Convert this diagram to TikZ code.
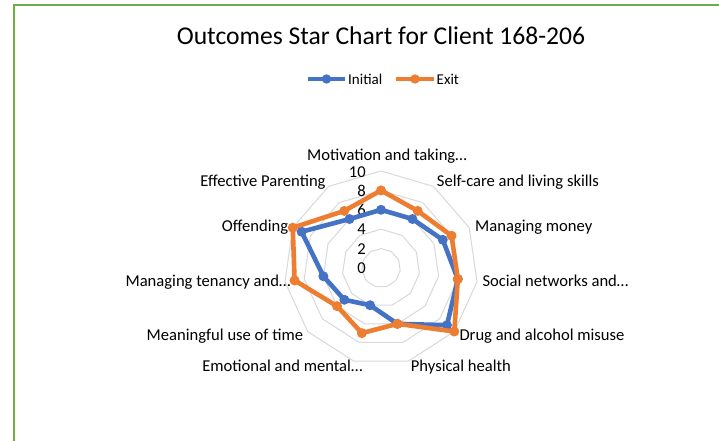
\documentclass[tikz,border=0pt]{standalone}
\usepackage{fontspec}
\setmainfont{Carlito}
\definecolor{serA}{HTML}{4472C4}
\definecolor{serB}{HTML}{ED7D31}
\definecolor{gridc}{HTML}{D9D9D9}
\definecolor{framec}{HTML}{70AD47}
\begin{document}
\begin{tikzpicture}[x=1bp,y=-1bp,
  ring/.style={draw=gridc,line width=1bp},
  serline/.style={line width=4.6bp,line join=round,line cap=round},
  lbl/.style={inner sep=0pt,font=\fontsize{16.6bp}{20bp}\selectfont},
  tick/.style={inner sep=0pt,anchor=base east,font=\fontsize{16.6bp}{20bp}\selectfont},
  leg/.style={inner sep=0pt,anchor=base west,font=\fontsize{15bp}{18bp}\selectfont}]
\useasboundingbox[fill=white] (0,0) rectangle (719,441);
% frame
\coordinate (fb) at (14,441);
\coordinate (fc) at (14,5);
\coordinate (fr) at (719,5);
\draw[framec,line width=2bp] (fb) -- (fc) -- (fr);
% title
\node[inner sep=0pt,anchor=base,font=\fontsize{25.6bp}{30bp}\selectfont] (title) at (381,45) {Outcomes Star Chart for Client 168-206};
% grid rings
\def\cx{381}\def\cy{268}\def\u{9.7}
\foreach \v in {2,4,6,8,10}{
  \draw[ring] plot[samples at={0,...,10}] ({\cx+\v*\u*cos(90-\x*360/11)},{\cy-\v*\u*sin(90-\x*360/11)}) -- cycle;
}
% tick labels
\foreach \v in {0,2,4,6,8,10}{
  \node[tick] (t\v) at (366,{268-\v*9.6+5.3}) {\v};
}
% data
\foreach \v [count=\k from 0] in {6,6,7,8,9,6,4,5,6,9,6}{
  \coordinate (i\k) at ({\cx+\v*\u*cos(90-\k*360/11)},{\cy-\v*\u*sin(90-\k*360/11)});
}
\foreach \v [count=\k from 0] in {8,7,8,8,10,6,7,6,9,10,7}{
  \coordinate (e\k) at ({\cx+\v*\u*cos(90-\k*360/11)},{\cy-\v*\u*sin(90-\k*360/11)});
}
\draw[serline,serA] (i0) \foreach \k in {1,...,10}{ -- (i\k) } -- cycle;
\foreach \k in {0,...,10}{ \fill[serA] (i\k) circle (5); }
\draw[serline,serB] (e0) \foreach \k in {1,...,10}{ -- (e\k) } -- cycle;
\foreach \k in {0,...,10}{ \fill[serB] (e\k) circle (5); }
% category labels
\node[lbl,anchor=base] (l0) at (387,160.3) {Motivation and taking…};
\node[lbl,anchor=base west] (l1) at (436.7,187) {Self-care and living skills};
\node[lbl,anchor=base west] (l2) at (475,231.3) {Managing money};
\node[lbl,anchor=base west] (l3) at (482.3,287) {Social networks and…};
\node[lbl,anchor=base west] (l4) at (459.3,340.3) {Drug and alcohol misuse};
\node[lbl,anchor=base west] (l5) at (410.7,371) {Physical health};
\node[lbl,anchor=base east] (l6) at (362.7,371) {Emotional and mental…};
\node[lbl,anchor=base east] (l7) at (303.3,340.3) {Meaningful use of time};
\node[lbl,anchor=base east] (l8) at (290.7,287) {Managing tenancy and…};
\node[lbl,anchor=base east] (l9) at (288.3,231.3) {Offending};
\node[lbl,anchor=base east] (l10) at (325.7,187) {Effective Parenting};
% legend
\coordinate (la1) at (308,79); \coordinate (la2) at (345,79); \coordinate (lam) at (326.5,79);
\coordinate (lb1) at (396,79); \coordinate (lb2) at (434,79); \coordinate (lbm) at (415,79);
\draw[serA,line width=4.6bp] (la1) -- (la2);
\fill[serA] (lam) circle (4.7);
\node[leg] (legA) at (348,84.3) {Initial};
\draw[serB,line width=4.6bp] (lb1) -- (lb2);
\fill[serB] (lbm) circle (4.7);
\node[leg] (legB) at (436.5,84.3) {Exit};
\end{tikzpicture}
\end{document}
